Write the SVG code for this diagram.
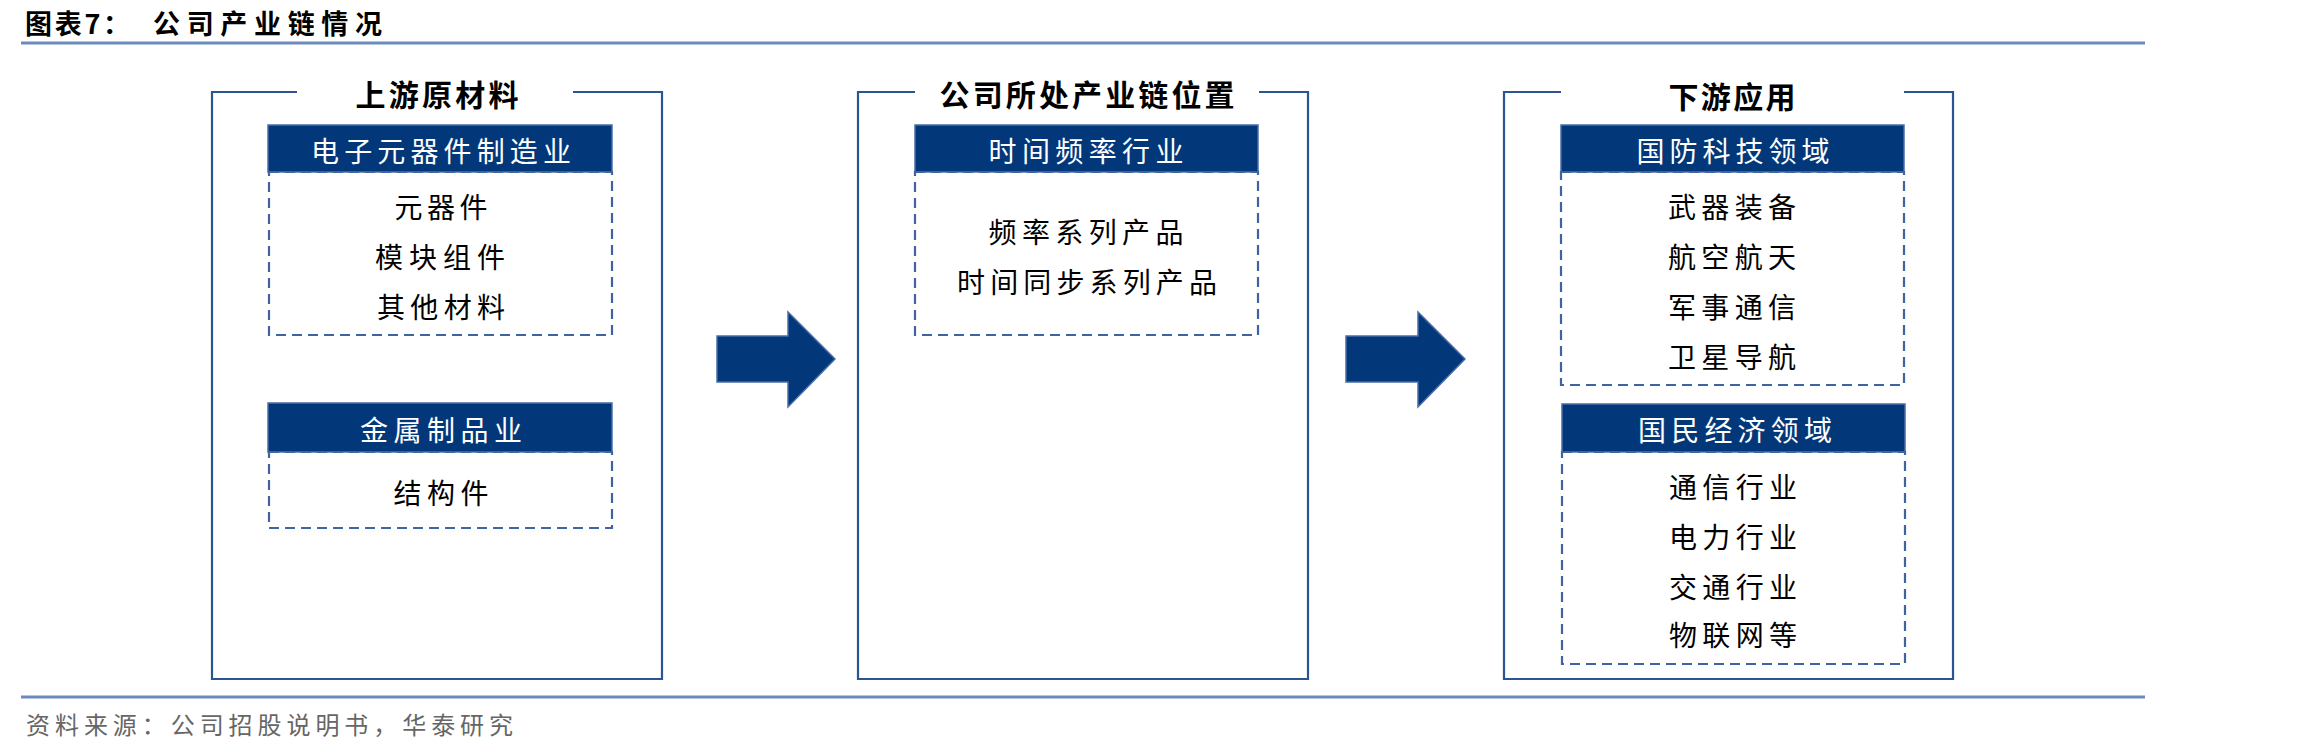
<svg xmlns="http://www.w3.org/2000/svg" width="2298" height="751" viewBox="0 0 2298 751">
<style>
.ttl{font-family:"Noto Sans CJK SC",sans-serif;font-weight:700;font-size:27px;fill:#000;}
.sec{font-family:"Noto Sans CJK SC",sans-serif;font-weight:700;font-size:30px;fill:#000;text-anchor:middle;dominant-baseline:central;}
.hd{font-family:"Noto Sans CJK SC",sans-serif;font-size:28px;fill:#fff;text-anchor:middle;dominant-baseline:central;}
.it{font-family:"Noto Sans CJK SC",sans-serif;font-size:28px;fill:#000;text-anchor:middle;dominant-baseline:central;}
.src{font-family:"Noto Sans CJK SC",sans-serif;font-size:24px;fill:#666;dominant-baseline:central;}
.outer{fill:none;stroke:#2B5495;stroke-width:2.2;}
.hbox{fill:#02387A;stroke:#4A6CA6;stroke-width:1.5;}
.dash{fill:none;stroke:#3F64A0;stroke-width:2.2;stroke-dasharray:10 6;}
.rule{stroke:#6B8BBE;stroke-width:3;}
.arrow{fill:#02387A;stroke:#4A6CA6;stroke-width:1.5;}
</style>
<g id="header">
<text class="ttl" x="25" y="22" dominant-baseline="central" textLength="105" lengthAdjust="spacing">图表7：</text>
<text class="ttl" x="153" y="22" dominant-baseline="central" textLength="229" lengthAdjust="spacing">公司产业链情况</text>
<line class="rule" x1="21" y1="43" x2="2145" y2="43"/>
</g>
<g id="upstream">
<path class="outer" d="M297,92 H212 V679 H662 V92 H573"/>
<text class="sec" x="437" y="93" textLength="163" lengthAdjust="spacing">上游原材料</text>
<g id="electronics">
<rect class="hbox" x="268" y="125" width="344" height="47"/>
<text class="hd" x="441" y="150" textLength="260" lengthAdjust="spacing">电子元器件制造业</text>
<rect class="dash" x="269" y="172" width="343" height="163"/>
<text class="it" x="441" y="206" textLength="93" lengthAdjust="spacing">元器件</text>
<text class="it" x="440" y="256" textLength="130" lengthAdjust="spacing">模块组件</text>
<text class="it" x="441" y="306" textLength="128" lengthAdjust="spacing">其他材料</text>
</g>
<g id="metal">
<rect class="hbox" x="268" y="403" width="344" height="49"/>
<text class="hd" x="441" y="429" textLength="162" lengthAdjust="spacing">金属制品业</text>
<rect class="dash" x="269" y="452" width="343" height="76"/>
<text class="it" x="441" y="492" textLength="95" lengthAdjust="spacing">结构件</text>
</g>
</g>
<g id="company">
<path class="outer" d="M915,92 H858 V679 H1308 V92 H1259"/>
<text class="sec" x="1087" y="93" textLength="295" lengthAdjust="spacing">公司所处产业链位置</text>
<rect class="hbox" x="915" y="125" width="343" height="47"/>
<text class="hd" x="1086" y="150" textLength="195" lengthAdjust="spacing">时间频率行业</text>
<rect class="dash" x="915" y="172" width="343" height="163"/>
<text class="it" x="1086" y="231" textLength="195" lengthAdjust="spacing">频率系列产品</text>
<text class="it" x="1087" y="281" textLength="260" lengthAdjust="spacing">时间同步系列产品</text>
</g>
<g id="downstream">
<path class="outer" d="M1561,92 H1504 V679 H1953 V92 H1904"/>
<text class="sec" x="1732" y="95" textLength="127" lengthAdjust="spacing">下游应用</text>
<g id="defense">
<rect class="hbox" x="1561" y="125" width="343" height="47"/>
<text class="hd" x="1733" y="150" textLength="193" lengthAdjust="spacing">国防科技领域</text>
<rect class="dash" x="1561" y="172" width="343" height="213"/>
<text class="it" x="1732" y="206" textLength="128" lengthAdjust="spacing">武器装备</text>
<text class="it" x="1732" y="256" textLength="128" lengthAdjust="spacing">航空航天</text>
<text class="it" x="1732" y="306" textLength="128" lengthAdjust="spacing">军事通信</text>
<text class="it" x="1732" y="356" textLength="128" lengthAdjust="spacing">卫星导航</text>
</g>
<g id="civil">
<rect class="hbox" x="1562" y="404" width="343" height="48"/>
<text class="hd" x="1735" y="429" textLength="194" lengthAdjust="spacing">国民经济领域</text>
<rect class="dash" x="1562" y="452" width="343" height="212"/>
<text class="it" x="1733" y="486" textLength="128" lengthAdjust="spacing">通信行业</text>
<text class="it" x="1733" y="536" textLength="128" lengthAdjust="spacing">电力行业</text>
<text class="it" x="1733" y="586" textLength="128" lengthAdjust="spacing">交通行业</text>
<text class="it" x="1733" y="634" textLength="128" lengthAdjust="spacing">物联网等</text>
</g>
</g>
<g id="connectors">
<path class="arrow" d="M717,336 H788 V312 L835,359 L788,407 V382 H717 Z"/>
<path class="arrow" d="M1346,336 H1418 V312 L1465,359 L1418,407 V382 H1346 Z"/>
</g>
<g id="footer">
<line class="rule" x1="21" y1="697" x2="2145" y2="697"/>
<text class="src" x="26" y="723" textLength="487" lengthAdjust="spacing">资料来源：公司招股说明书，华泰研究</text>
</g>
</svg>
